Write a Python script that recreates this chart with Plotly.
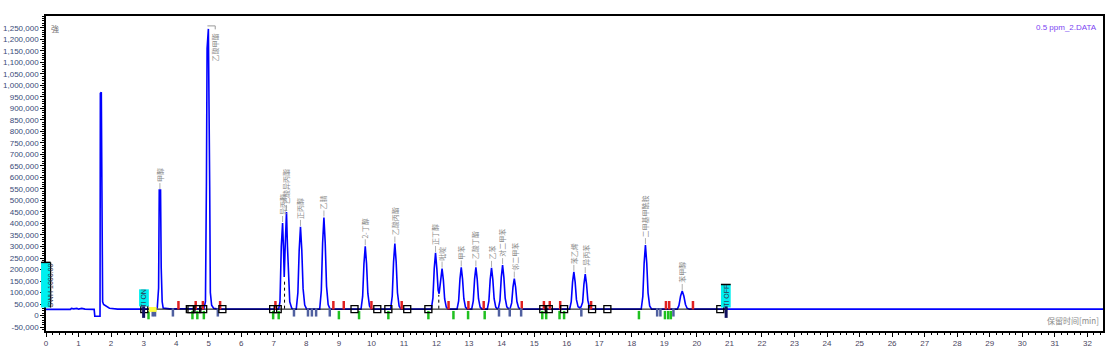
import plotly.graph_objects as go

# ---------------- data ----------------
time_min = [0, 0.75, 0.78, 0.85, 0.95, 1.0, 1.1, 1.2, 1.48, 1.50, 1.66, 1.67, 1.70, 1.71, 1.74, 1.77, 1.85, 1.95, 2.2,
            2.8, 2.82, 2.86, 2.95, 3.0, 3.38, 3.42, 3.46, 3.48, 3.52, 3.54, 3.57, 3.6, 3.8,
            4.85, 4.90, 4.93, 4.95, 4.99, 5.01, 5.03, 5.05, 5.09, 5.15, 5.3,
            7.15, 7.19, 7.23, 7.27, 7.30, 7.32, 7.35, 7.39, 7.42, 7.45, 7.49, 7.55, 7.62,
            7.69, 7.74, 7.78, 7.82, 7.86, 7.90, 7.95, 8.01,
            8.41, 8.46, 8.50, 8.54, 8.58, 8.62, 8.67, 8.73,
            9.68, 9.73, 9.77, 9.81, 9.85, 9.89, 9.94, 10.0,
            10.59, 10.64, 10.68, 10.72, 10.76, 10.80, 10.85, 10.91,
            11.84, 11.89, 11.93, 11.97, 12.01, 12.05, 12.08, 12.13, 12.17, 12.21, 12.25, 12.30, 12.36,
            12.63, 12.68, 12.72, 12.76, 12.80, 12.84, 12.89, 12.95,
            13.08, 13.13, 13.17, 13.21, 13.25, 13.29, 13.34, 13.40,
            13.56, 13.61, 13.65, 13.69, 13.73, 13.77, 13.82, 13.87,
            13.90, 13.95, 13.99, 14.03, 14.07, 14.11, 14.16, 14.22,
            14.26, 14.31, 14.35, 14.39, 14.43, 14.47, 14.52, 14.58,
            16.09, 16.14, 16.18, 16.22, 16.26, 16.30, 16.35, 16.40, 16.44, 16.49, 16.53, 16.57, 16.61, 16.65, 16.70, 16.76,
            18.29, 18.34, 18.38, 18.42, 18.46, 18.50, 18.55, 18.61,
            19.40, 19.45, 19.50, 19.55, 19.60, 19.65, 19.70, 19.77,
            32.5]
signal = [27000, 27000, 31000, 29000, 31000, 28000, 31000, 28000, 27000, -3000, -3000, 965000, 970000, 460000, 60000, 48000, 40000, 32000, 28000,
          28000, 31000, 28000, 31000, 28000, 28000, 35000, 120000, 545000, 545000, 210000, 60000, 33000, 29000,
          29000, 60000, 580000, 1160000, 1245000, 620000, 560000, 100000, 45000, 32000, 28000,
          28000, 60000, 300000, 402000, 280000, 168000, 300000, 450000, 300000, 150000, 60000, 32000, 28000,
          28000, 99000, 285000, 385000, 285000, 117000, 46000, 28000,
          28000, 108000, 315000, 426000, 315000, 128000, 48000, 28000,
          28000, 83000, 225000, 301000, 225000, 96000, 42000, 28000,
          28000, 85000, 233000, 313000, 233000, 99000, 42000, 28000,
          28000, 77000, 204000, 272000, 204000, 110000, 95000, 155000, 204000, 155000, 72000, 37000, 28000,
          28000, 64000, 158000, 209000, 158000, 73000, 37000, 28000,
          28000, 64000, 158000, 209000, 158000, 73000, 37000, 28000,
          28000, 64000, 157000, 207000, 157000, 73000, 37000, 29000,
          30000, 66000, 166000, 219000, 166000, 76000, 38000, 29000,
          30000, 55000, 124000, 161000, 124000, 61000, 35000, 28000,
          28000, 60000, 145000, 190000, 145000, 69000, 38000, 34000, 37000, 58000, 137000, 180000, 137000, 66000, 36000, 28000,
          28000, 84000, 228000, 306000, 228000, 98000, 42000, 28000,
          28000, 44000, 85000, 107000, 85000, 48000, 32000, 28000,
          28000]

# labelled peaks (retention time, apex height, name)
peak_rt = [3.50, 7.27, 7.39, 7.82, 8.54, 9.81, 10.72, 11.97, 12.17, 12.76, 13.21, 13.69, 14.03, 14.39, 16.22, 16.57, 18.42, 19.55]
peak_h = [545000, 402000, 450000, 385000, 426000, 301000, 313000, 272000, 204000, 209000, 209000, 207000, 219000, 161000,
          190000, 180000, 306000, 107000]
peak_name = ["甲醇", "异丙醇", "乙酸异丙酯", "正丙醇", "乙腈", "2-丁醇", "乙酸丙酯", "正丁醇", "吡啶", "甲苯",
             "乙酸丁酯", "乙苯", "对二甲苯", "邻二甲苯", "苯乙烯", "异丙苯", "二甲基甲酰胺", "苯甲醇"]
big_peak_name = "乙酸甲酯"

baseline_level = 28000
baseline_span = [2.9, 20.95]
square_t = [3.02, 4.42, 4.47, 4.65, 4.83, 5.42, 6.98, 7.12, 9.48, 10.18, 10.52, 11.1, 11.75, 15.28, 15.45, 15.92,
            16.78, 17.25, 20.72]
red_t = [4.07, 4.6, 4.82, 5.35, 7.05, 8.83, 9.15, 10.0, 10.93, 12.37, 12.98, 13.45, 14.62, 15.3, 15.48, 15.8, 16.75,
         19.05, 19.15, 19.88]
green_t = [3.15, 4.5, 4.65, 4.85, 6.98, 7.15, 9.0, 9.62, 10.52, 11.75, 12.52, 12.97, 13.48, 15.25, 15.37, 15.78, 15.92,
           18.22, 19.02, 19.12, 19.2]
blue_t = [3.28, 3.35, 3.9, 5.28, 7.62, 8.05, 8.17, 8.3, 8.72, 13.92, 14.25, 14.6, 16.45, 18.78, 18.88, 19.28]

y_tick_vals = list(range(-50000, 1250001, 50000))
y_tick_text = [f"{v:,}" for v in y_tick_vals]
x_tick_vals = list(range(0, 33))

# ---------------- figure ----------------
fig = go.Figure()

fig.add_trace(go.Scatter(x=time_min, y=signal, mode="lines",
                         line=dict(color="#0000FF", width=1.6), hoverinfo="skip"))
fig.add_trace(go.Scatter(x=baseline_span, y=[baseline_level] * 2, mode="lines",
                         line=dict(color="black", width=1), hoverinfo="skip"))
fig.add_trace(go.Scatter(x=red_t, y=[45000] * len(red_t), mode="markers",
                         marker=dict(symbol="line-ns", size=6, line=dict(color="#E02020", width=2.5))))
fig.add_trace(go.Scatter(x=green_t, y=[2000] * len(green_t), mode="markers",
                         marker=dict(symbol="line-ns", size=6, line=dict(color="#20C020", width=2.5))))
fig.add_trace(go.Scatter(x=blue_t, y=[14000] * len(blue_t), mode="markers",
                         marker=dict(symbol="line-ns", size=6, line=dict(color="#5060A0", width=2.5))))
fig.add_trace(go.Scatter(x=square_t, y=[baseline_level] * len(square_t), mode="markers",
                         marker=dict(symbol="square-open", size=7, color="black", line=dict(width=1.3))))

# peak labels with short leader lines
for t, h, name in zip(peak_rt, peak_h, peak_name):
    fig.add_shape(type="line", xref="x", yref="y", ysizemode="pixel", yanchor=h, x0=t, x1=t, y0=1, y1=7,
                  line=dict(color="#9a9a9a", width=0.8))
    fig.add_annotation(x=t, y=h, text=name, textangle=-90, showarrow=False, xanchor="center", yanchor="bottom",
                       yshift=6, xshift=0,
                       font=dict(size=7, color="#8a8a8a", family="Noto Sans CJK SC"))

# label for the tallest peak (placed to the right with a bracket)
fig.add_annotation(x=5.2, y=1235000, text=big_peak_name, textangle=-90, showarrow=False,
                   xanchor="center", yanchor="top",
                   font=dict(size=7, color="#8a8a8a", family="Noto Sans CJK SC"))
fig.add_shape(type="line", x0=4.96, x1=5.2, y0=1258000, y1=1258000, line=dict(color="#9a9a9a", width=1))
fig.add_shape(type="line", x0=5.2, x1=5.2, y0=1258000, y1=1243000, line=dict(color="#9a9a9a", width=1))

# dashed drop lines
for t, ytop in [(7.33, 150000), (12.07, 90000)]:
    fig.add_shape(type="line", x0=t, x1=t, y0=30000, y1=ytop, line=dict(color="black", width=1, dash="dot"))

# event boxes
fig.add_shape(type="rect", x0=2.86, x1=3.16, y0=40000, y1=114000, fillcolor="#00F0F0", line=dict(width=0))
fig.add_shape(type="rect", x0=3.16, x1=3.40, y0=16000, y1=37000, fillcolor="#FFFF40", line=dict(width=0))
fig.add_shape(type="rect", x0=20.74, x1=21.04, y0=35000, y1=135000, fillcolor="#00F0F0", line=dict(width=0))
fig.add_shape(type="line", x0=20.74, x1=21.04, y0=135000, y1=135000, line=dict(color="black", width=1.5))
fig.add_shape(type="rect", xref="paper", x0=-0.0047, x1=0.0044, y0=35000, y1=231000, fillcolor="#00F0F0",
              line=dict(width=0))
fig.add_shape(type="line", xref="paper", x0=-0.0047, x1=0.0044, y0=231000, y1=231000,
              line=dict(color="black", width=1.5))
fig.add_shape(type="line", xref="paper", x0=0.0044, x1=0.0044, y0=35000, y1=231000,
              line=dict(color="black", width=1.2))
# event tick bars
for t in [3.0, 20.9]:
    fig.add_shape(type="line", x0=t, x1=t, y0=-10000, y1=40000, line=dict(color="#101060", width=3))

for t, y, txt in [(3.01, 77000, "TI ON"), (20.89, 85000, "TI OFF")]:
    fig.add_annotation(x=t, y=y, text=txt, textangle=-90, showarrow=False,
                       font=dict(size=7, color="#303050", family="Liberation Sans"))
fig.add_annotation(xref="paper", x=-0.0002, y=133000, text="SWH 1000.00", textangle=-90, showarrow=False,
                   font=dict(size=7, color="#303050", family="Liberation Sans"))

# corner texts
fig.add_annotation(xref="paper", yref="paper", x=0.0085, y=0.985, text="強", showarrow=False,
                   xanchor="center", yanchor="top", font=dict(size=8, color="#707070", family="Noto Sans CJK SC"))
fig.add_annotation(xref="paper", yref="paper", x=0.9965, y=0.985, text="0.5 ppm_2.DATA", showarrow=False,
                   xanchor="right", yanchor="top", font=dict(size=8, color="#7B3FF2", family="Liberation Sans"))
fig.add_annotation(xref="paper", yref="paper", x=0.9985, y=0.01, text="保留时间[min]", showarrow=False,
                   xanchor="right", yanchor="bottom", font=dict(size=8, color="#8a8a8a", family="Noto Sans CJK SC"))

fig.update_layout(
    width=1118, height=352,
    margin=dict(l=46, r=15, t=16, b=21),
    paper_bgcolor="white", plot_bgcolor="white",
    showlegend=False,
    xaxis=dict(range=[0, 32.48], tickmode="array", tickvals=x_tick_vals, automargin=False,
               ticks="outside", ticklen=4, tickwidth=1, tickcolor="black",
               minor=dict(dtick=0.2, ticks="outside", ticklen=2, tickcolor="black"),
               showline=True, linecolor="black", linewidth=1.5, mirror=True,
               showgrid=False, zeroline=False,
               tickfont=dict(size=8, color="#4a4560", family="Liberation Sans")),
    yaxis=dict(range=[-67000, 1301000], tickmode="array", tickvals=y_tick_vals, ticktext=y_tick_text,
               automargin=False,
               ticks="outside", ticklen=4, tickwidth=1, tickcolor="black",
               minor=dict(dtick=10000, ticks="outside", ticklen=2, tickcolor="black"),
               showline=True, linecolor="black", linewidth=1.5, mirror=True,
               showgrid=False, zeroline=False,
               tickfont=dict(size=8, color="#3a4a78", family="Liberation Sans")),
)

fig.write_html("out.html")
